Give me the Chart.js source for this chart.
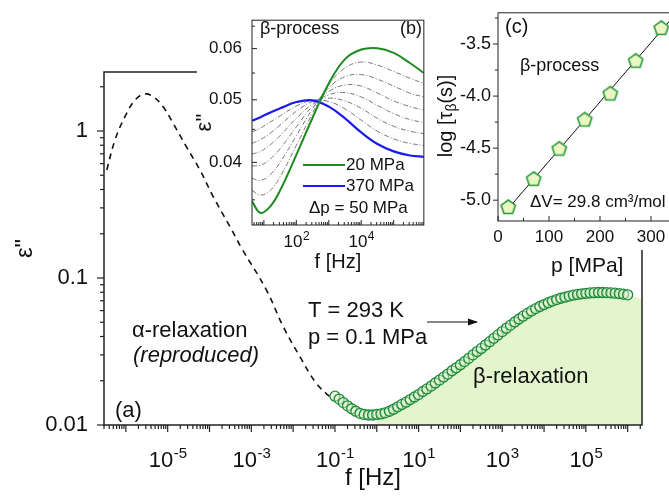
<!DOCTYPE html>
<html>
<head>
<meta charset="utf-8">
<script src="https://cdn.jsdelivr.net/npm/chart.js"></script>
<style>
  body { margin: 0; background: #fff; overflow: hidden; }
  #wrap { position: relative; width: 669px; height: 499px; overflow: hidden; background: #fff; }
  #wrap canvas { position: absolute; top: 0; }
</style>
</head>
<body>
<div id="wrap">
  <canvas id="mainChart" width="669" height="499" style="left:0"></canvas>
  <canvas id="insetB" width="250" height="280" style="left:180px"></canvas>
  <canvas id="insetC" width="265" height="290" style="left:420px"></canvas>
</div>

<script>
  // panel (a): alpha relaxation (dashed) and beta relaxation (circles), T = 293 K
  const alphaFreq = [3.5e-7, 5.5e-7, 9.5e-7, 1.66e-6, 2.8e-6, 4.5e-6, 7.8e-6, 1.35e-5, 2.8e-5,
    5.9e-5, 1.23e-4, 3.1e-4, 5.9e-4, 2.3e-3, 5.8e-3, 1.45e-2, 3.6e-2, 9.1e-2];
  const alphaEps = [0.543, 0.869, 1.251, 1.625, 1.786, 1.71, 1.46, 1.127, 0.782,
    0.543, 0.357, 0.223, 0.159, 0.0828, 0.0467, 0.0292, 0.0192, 0.0148];

  const betaFreq = [
    0.1, 0.126, 0.158, 0.2, 0.251, 0.316, 0.398, 0.501, 0.631, 0.794,
    1, 1.26, 1.58, 2, 2.51, 3.16, 3.98, 5.01, 6.31, 7.94,
    10, 12.6, 15.8, 20, 25.1, 31.6, 39.8, 50.1, 63.1, 79.4,
    100, 126, 158, 200, 251, 316, 398, 501, 631, 794,
    1e3, 1.26e3, 1.58e3, 2e3, 2.51e3, 3.16e3, 3.98e3, 5.01e3, 6.31e3, 7.94e3,
    1e4, 1.26e4, 1.58e4, 2e4, 2.51e4, 3.16e4, 3.98e4, 5.01e4, 6.31e4, 7.94e4,
    1e5, 1.26e5, 1.58e5, 2e5, 2.51e5, 3.16e5, 3.98e5, 5.01e5, 6.31e5, 7.94e5,
    1e6];
  const betaEps = [
    0.0157, 0.0150, 0.0142, 0.0135, 0.0129, 0.0124, 0.0120, 0.0118, 0.0117, 0.0117,
    0.0118, 0.0119, 0.0121, 0.0124, 0.0128, 0.0133, 0.0138, 0.0143, 0.0149, 0.0155,
    0.0161, 0.0169, 0.0176, 0.0184, 0.0193, 0.0202, 0.0212, 0.0222, 0.0234, 0.0245,
    0.0257, 0.0270, 0.0284, 0.0300, 0.0316, 0.0332, 0.0350, 0.0369, 0.0389, 0.0410,
    0.0432, 0.0455, 0.0478, 0.0502, 0.0526, 0.0550, 0.0574, 0.0597, 0.0619, 0.0640,
    0.0660, 0.0679, 0.0697, 0.0713, 0.0728, 0.0741, 0.0753, 0.0764, 0.0773, 0.0781,
    0.0787, 0.0792, 0.0795, 0.0797, 0.0797, 0.0796, 0.0793, 0.0789, 0.0783, 0.0776,
    0.0768];
  const betaAreaEnd = [2.2e6, 0.072];
  const mainXLabelExp = [-5, -3, -1, 1, 3, 5];
  const mainYLabels = [0.01, 0.1, 1];

  // panel (b): beta process at 20 ... 370 MPa
  const insetFreq = [4.3, 7.9, 15.8, 31.6, 100, 316, 1000, 3160, 1e4, 3.16e4, 1e5, 3.16e5, 8.5e5];
  const eps20 = [0.0348, 0.0334, 0.0342, 0.0362, 0.0411, 0.0469, 0.0530, 0.0578, 0.0598, 0.0601, 0.0591, 0.0570, 0.0550];
  const eps70 = [0.0362, 0.0356, 0.0362, 0.0380, 0.0425, 0.0477, 0.0528, 0.0560, 0.0572, 0.0566, 0.0553, 0.0540, 0.0530];
  const eps120 = [0.0378, 0.0375, 0.0383, 0.0400, 0.0440, 0.0484, 0.0522, 0.0543, 0.0547, 0.0538, 0.0525, 0.0512, 0.0505];
  const eps170 = [0.0395, 0.0396, 0.0405, 0.0420, 0.0454, 0.0489, 0.0515, 0.0527, 0.0525, 0.0512, 0.0498, 0.0488, 0.0482];
  const eps220 = [0.0412, 0.0416, 0.0426, 0.0440, 0.0468, 0.0493, 0.0509, 0.0513, 0.0505, 0.0490, 0.0476, 0.0466, 0.0461];
  const eps270 = [0.0428, 0.0434, 0.0444, 0.0457, 0.0480, 0.0497, 0.0503, 0.0498, 0.0485, 0.0468, 0.0455, 0.0447, 0.0443];
  const eps320 = [0.0446, 0.0452, 0.0462, 0.0472, 0.0489, 0.0499, 0.0497, 0.0484, 0.0465, 0.0447, 0.0435, 0.0428, 0.0425];
  const eps370 = [0.0464, 0.0470, 0.0478, 0.0485, 0.0496, 0.0499, 0.0488, 0.0468, 0.0445, 0.0427, 0.0416, 0.0410, 0.0408];
  const insetYTicks = [0.035, 0.04, 0.045, 0.05, 0.055, 0.06, 0.065];
  const insetYLabels = [0.04, 0.05, 0.06];
  const insetXLabelExp = [2, 4];

  // panel (c): log tau_beta vs pressure
  const pressure = [20, 70, 120, 170, 220, 270, 320];
  const logTau = [-5.07, -4.80, -4.51, -4.23, -3.98, -3.665, -3.35];
  const fitP = [15, 345];
  const fitLogTau = [-5.11, -3.23];
  const tauYTicks = [-5, -4.75, -4.5, -4.25, -4, -3.75, -3.5, -3.25];

  const FONT = "'Liberation Sans', Arial, sans-serif";
  const GREEN = '#1e8a3a';
  Chart.defaults.font.family = FONT;
  Chart.defaults.color = '#111';

  const SUP = {'-': '\u207B', '0': '\u2070', '1': '\u00B9', '2': '\u00B2', '3': '\u00B3',
    '4': '\u2074', '5': '\u2075', '6': '\u2076', '7': '\u2077', '8': '\u2078', '9': '\u2079'};
  const sup = n => String(n).split('').map(c => SUP[c]).join('');
  const isDecade = v => { const e = Math.round(Math.log10(v)); return Math.abs(v / Math.pow(10, e) - 1) < 1e-6; };
  const pow10Label = list => v => {
    const e = Math.round(Math.log10(v));
    return isDecade(v) && list.includes(e) ? '10' + sup(e) : '';
  };
  const logTicks = (min, max) => {
    const out = [];
    for (let n = Math.floor(Math.log10(min)); n <= Math.ceil(Math.log10(max)); n++) {
      for (let k = 1; k <= 9; k++) {
        const v = parseFloat((k * Math.pow(10, n)).toPrecision(6));
        if (v >= min * 0.999999 && v <= max * 1.000001) out.push({value: v});
      }
    }
    return out;
  };
  const pts = (xs, ys) => xs.map((x, i) => ({x: x, y: ys[i]}));

  // box around the plot area, tick marks (major / minor, in or out)
  const framePlugin = {
    id: 'frame',
    afterDatasetsDraw(chart, args, o) {
      const ctx = chart.ctx, a = chart.chartArea;
      ctx.save();
      ctx.strokeStyle = '#222';
      ctx.lineWidth = o.lineWidth;
      ctx.strokeRect(a.left, a.top, a.right - a.left, a.bottom - a.top);
      ctx.lineWidth = o.tickWidth;
      ['x', 'y'].forEach(id => {
        const t = o[id], s = chart.scales[id];
        s.ticks.forEach(tk => {
          const major = t.majorBy === 'decade' ? isDecade(tk.value) : tk.label !== '';
          const len = (major ? t.major : t.minor) * t.dir;
          const p = s.getPixelForValue(tk.value);
          ctx.beginPath();
          if (id === 'x') { ctx.moveTo(p, a.bottom); ctx.lineTo(p, a.bottom + len); }
          else { ctx.moveTo(a.left, p); ctx.lineTo(a.left - len, p); }
          ctx.stroke();
        });
      });
      ctx.restore();
    }
  };

  // "10" with a raised exponent under the labelled decade ticks of the x axis
  const powerPlugin = {
    id: 'power',
    afterDraw(chart, args, o) {
      const ctx = chart.ctx, s = chart.scales.x;
      ctx.save();
      ctx.fillStyle = '#111';
      ctx.textBaseline = 'alphabetic';
      ctx.textAlign = 'left';
      s.ticks.forEach(tk => {
        if (!tk.label) return;
        const e = String(Math.round(Math.log10(tk.value)));
        const base = o.size + 'px ' + FONT, small = o.supSize + 'px ' + FONT;
        ctx.font = base; const w1 = ctx.measureText('10').width;
        ctx.font = small; const w2 = ctx.measureText(e).width;
        const x = s.getPixelForValue(tk.value) - (w1 + w2) / 2;
        ctx.font = base; ctx.fillText('10', x, chart.chartArea.bottom + o.baseline);
        ctx.font = small; ctx.fillText(e, x + w1 + 0.5, chart.chartArea.bottom + o.supBaseline);
      });
      ctx.restore();
    }
  };

  // white patches so the insets hide the frame of panel (a)
  const paperPlugin = {
    id: 'paper',
    beforeDraw(chart, args, o) {
      const ctx = chart.ctx, a = chart.chartArea;
      ctx.save();
      ctx.fillStyle = '#fff';
      (o.rects || []).forEach(r => ctx.fillRect(r[0], r[1], r[2], r[3]));
      ctx.fillRect(a.left, a.top, a.right - a.left, a.bottom - a.top);
      ctx.restore();
    }
  };

  const notesPlugin = {
    id: 'notes',
    afterDraw(chart, args, o) {
      const ctx = chart.ctx;
      ctx.save();
      ctx.textBaseline = 'middle';
      (o.lines || []).forEach(l => {
        ctx.strokeStyle = l.color;
        ctx.fillStyle = l.color;
        ctx.lineWidth = l.width;
        ctx.beginPath(); ctx.moveTo(l.x1, l.y); ctx.lineTo(l.x2, l.y); ctx.stroke();
        if (l.arrow) {
          ctx.beginPath();
          ctx.moveTo(l.x2 + 1, l.y); ctx.lineTo(l.x2 - 9, l.y - 3.5); ctx.lineTo(l.x2 - 9, l.y + 3.5);
          ctx.closePath(); ctx.fill();
        }
      });
      (o.texts || []).forEach(t => {
        ctx.font = (t.italic ? 'italic ' : '') + t.size + 'px ' + FONT;
        ctx.fillStyle = '#111';
        ctx.textAlign = 'left';
        ctx.fillText(t.text, t.x, t.y);
      });
      if (o.tauTitle) {
        const r = o.tauTitle;
        const big = r.size + 'px ' + FONT, small = Math.round(r.size * 0.7) + 'px ' + FONT;
        ctx.translate(r.x, r.y);
        ctx.rotate(-Math.PI / 2);
        ctx.font = big; const w1 = ctx.measureText('log [\u03C4').width; const w3 = ctx.measureText('(s)]').width;
        ctx.font = small; const w2 = ctx.measureText('\u03B2').width;
        let x = -(w1 + w2 + w3) / 2;
        ctx.textAlign = 'left';
        ctx.fillStyle = '#111';
        ctx.font = big; ctx.fillText('log [\u03C4', x, 0); x += w1;
        ctx.font = small; ctx.fillText('\u03B2', x, r.size * 0.3); x += w2;
        ctx.font = big; ctx.fillText('(s)]', x, 0);
      }
      ctx.restore();
    }
  };

  const betaPts = pts(betaFreq, betaEps);
  const areaPts = betaPts.filter(p => p.x >= 1).concat([{x: betaAreaEnd[0], y: betaAreaEnd[1]}]);

  new Chart(document.getElementById('mainChart'), {
    type: 'scatter',
    data: {
      datasets: [
        {
          label: 'beta relaxation',
          data: betaPts,
          pointRadius: 5,
          pointBorderWidth: 1.3,
          borderColor: GREEN,
          backgroundColor: 'rgba(218, 242, 202, 0.5)',
        },
        {
          label: 'alpha relaxation (reproduced)',
          data: pts(alphaFreq, alphaEps),
          showLine: true,
          tension: 0.4,
          borderDash: [6, 5],
          borderColor: '#111',
          borderWidth: 1.6,
          pointRadius: 0,
        },
        {
          label: 'beta area',
          data: areaPts,
          showLine: true,
          borderWidth: 0,
          borderColor: 'rgba(0,0,0,0)',
          pointRadius: 0,
          fill: 'start',
          backgroundColor: '#e3f5cd',
        },
      ],
    },
    options: {
      responsive: false,
      animation: false,
      layout: { padding: { top: 72, right: 27, left: 0, bottom: 0 } },
      plugins: {
        legend: { display: false },
        tooltip: { enabled: false },
        frame: {
          lineWidth: 1.5, tickWidth: 1.2,
          x: { dir: 1, major: 7, minor: 4, majorBy: 'decade' },
          y: { dir: 1, major: 7, minor: 4, majorBy: 'decade' },
        },
        power: { size: 22, supSize: 15, baseline: 42, supBaseline: 33 },
        notes: {
          lines: [{ x1: 427, x2: 477, y: 322, color: '#111', width: 1.2, arrow: true }],
          texts: [
            { text: '\u03B1-relaxation', x: 132, y: 331, size: 22 },
            { text: '(reproduced)', x: 133, y: 356, size: 22, italic: true },
            { text: '(a)', x: 115, y: 411, size: 22 },
            { text: 'T = 293 K', x: 308, y: 311, size: 22 },
            { text: 'p = 0.1 MPa', x: 308, y: 338, size: 22 },
            { text: '\u03B2-relaxation', x: 473, y: 377, size: 22 },
          ],
        },
      },
      scales: {
        x: {
          type: 'logarithmic',
          min: 3e-7,
          max: 2.2e6,
          afterFit: s => { s.height = 74; },
          afterBuildTicks: s => { s.ticks = logTicks(s.min, s.max); },
          grid: { display: false, tickLength: 7 },
          border: { display: false },
          ticks: { autoSkip: false, maxRotation: 0, minRotation: 0, padding: 12, font: { size: 22 },
            color: 'rgba(0,0,0,0)', callback: pow10Label(mainXLabelExp) },
          title: { display: true, text: 'f [Hz]', font: { size: 24 }, padding: { bottom: 6 } },
        },
        y: {
          type: 'logarithmic',
          min: 0.01,
          max: 2.52,
          afterFit: s => { s.width = 104; },
          afterBuildTicks: s => { s.ticks = logTicks(s.min, s.max); },
          grid: { display: false, tickLength: 7 },
          border: { display: false },
          ticks: { autoSkip: false, padding: 9, font: { size: 22 },
            callback: v => mainYLabels.some(m => Math.abs(v / m - 1) < 1e-6) ? String(v) : '' },
          title: { display: true, text: '\u03B5"', font: { size: 24 }, padding: { top: 11 } },
        },
      },
    },
    plugins: [framePlugin, powerPlugin, notesPlugin],
  });

  // inset (b)
  const grayLine = data => ({
    data: pts(insetFreq, data), showLine: true, tension: 0.4, pointRadius: 0,
    borderColor: '#6a6a6a', borderWidth: 0.9, borderDash: [5, 2, 1, 2],
  });
  new Chart(document.getElementById('insetB'), {
    type: 'scatter',
    data: {
      datasets: [
        { label: '20 MPa', data: pts(insetFreq, eps20), showLine: true, tension: 0.4, pointRadius: 0, borderColor: '#1f8a1f', borderWidth: 2 },
        { label: '370 MPa', data: pts(insetFreq, eps370), showLine: true, tension: 0.4, pointRadius: 0, borderColor: '#1a1aee', borderWidth: 2.2 },
        grayLine(eps70), grayLine(eps120), grayLine(eps170), grayLine(eps220), grayLine(eps270), grayLine(eps320),
      ],
    },
    options: {
      responsive: false,
      animation: false,
      layout: { padding: { top: 10, right: 3, left: 0, bottom: 0 } },
      plugins: {
        legend: { display: false },
        tooltip: { enabled: false },
        paper: { rects: [[17, 0, 233, 160]] },
        frame: {
          lineWidth: 1, tickWidth: 1,
          x: { dir: -1, major: 5, minor: 3, majorBy: 'decade' },
          y: { dir: -1, major: 5, minor: 3, majorBy: 'label' },
        },
        power: { size: 17, supSize: 12, baseline: 22, supBaseline: 15 },
        notes: {
          lines: [
            { x1: 123, x2: 165, y: 165, color: '#1f8a1f', width: 2 },
            { x1: 123, x2: 165, y: 186, color: '#1a1aee', width: 2.2 },
          ],
          texts: [
            { text: '\u03B2-process', x: 80, y: 29, size: 18 },
            { text: '(b)', x: 220, y: 29, size: 18 },
            { text: '20 MPa', x: 166, y: 165, size: 17 },
            { text: '370 MPa', x: 166, y: 186, size: 17 },
            { text: '\u0394p = 50 MPa', x: 129, y: 208, size: 17 },
          ],
        },
      },
      scales: {
        x: {
          type: 'logarithmic',
          min: 4.3,
          max: 8.5e5,
          afterFit: s => { s.height = 55; },
          afterBuildTicks: s => { s.ticks = logTicks(s.min, s.max); },
          grid: { display: false, drawTicks: false },
          border: { display: false },
          ticks: { autoSkip: false, maxRotation: 0, padding: 7, font: { size: 17 },
            color: 'rgba(0,0,0,0)', callback: pow10Label(insetXLabelExp) },
          title: { display: true, text: 'f [Hz]', font: { size: 20 }, padding: { bottom: 6 } },
        },
        y: {
          type: 'logarithmic',
          min: 0.0321,
          max: 0.0664,
          afterFit: s => { s.width = 72; },
          afterBuildTicks: s => { s.ticks = insetYTicks.map(v => ({value: v})); },
          grid: { display: false, drawTicks: false },
          border: { display: false },
          ticks: { autoSkip: false, padding: 10, font: { size: 17 },
            callback: v => insetYLabels.some(m => Math.abs(v - m) < 1e-9) ? v.toFixed(2) : '' },
          title: { display: true, text: '\u03B5"', font: { size: 22 }, padding: { top: 12 } },
        },
      },
    },
    plugins: [paperPlugin, framePlugin, powerPlugin, notesPlugin],
  });

  // inset (c)
  function pentagon(r, fill, stroke) {
    const c = document.createElement('canvas');
    const size = Math.ceil(2 * r + 4);
    c.width = size; c.height = size;
    const g = c.getContext('2d');
    g.beginPath();
    for (let i = 0; i < 5; i++) {
      const ang = -Math.PI / 2 + i * 2 * Math.PI / 5;
      g.lineTo(size / 2 + r * Math.cos(ang), size / 2 + r * Math.sin(ang));
    }
    g.closePath();
    g.fillStyle = fill; g.fill();
    g.lineWidth = 1.6; g.strokeStyle = stroke; g.stroke();
    return c;
  }

  new Chart(document.getElementById('insetC'), {
    type: 'scatter',
    data: {
      datasets: [
        {
          label: 'tau beta',
          data: pts(pressure, logTau),
          pointStyle: pentagon(7.5, '#eaf6c4', '#2a9a3a'),
          pointRadius: 7,
        },
        {
          label: 'fit',
          data: pts(fitP, fitLogTau),
          showLine: true,
          pointRadius: 0,
          borderColor: '#111',
          borderWidth: 1,
        },
      ],
    },
    options: {
      responsive: false,
      animation: false,
      layout: { padding: { top: 10, right: 8.5, left: 0, bottom: 0 } },
      plugins: {
        legend: { display: false },
        tooltip: { enabled: false },
        paper: { rects: [[10, 0, 255, 250]] },
        frame: {
          lineWidth: 1, tickWidth: 1,
          x: { dir: -1, major: 5, minor: 3, majorBy: 'label' },
          y: { dir: 1, major: 5, minor: 3, majorBy: 'label' },
        },
        notes: {
          texts: [
            { text: '(c)', x: 85, y: 27, size: 20 },
            { text: '\u03B2-process', x: 100, y: 66, size: 18 },
            { text: '\u0394V= 29.8 cm\u00B3/mol', x: 110, y: 202, size: 17 },
          ],
          tauTitle: { x: 26, y: 116, size: 20 },
        },
      },
      scales: {
        x: {
          type: 'linear',
          min: 0,
          max: 350,
          afterFit: s => { s.height = 69; },
          grid: { display: false, drawTicks: false },
          border: { display: false },
          ticks: { stepSize: 50, autoSkip: false, maxRotation: 0, padding: 6, font: { size: 17 },
            callback: v => v % 100 === 0 ? String(v) : '' },
          title: { display: true, text: 'p [MPa]', font: { size: 21 }, padding: { bottom: 11 } },
        },
        y: {
          type: 'linear',
          min: -5.2,
          max: -3.2,
          afterFit: s => { s.width = 78; },
          afterBuildTicks: s => { s.ticks = tauYTicks.map(v => ({value: v})); },
          grid: { display: false, tickLength: 5 },
          border: { display: false },
          ticks: { autoSkip: false, padding: 2, font: { size: 18 },
            callback: v => Math.abs(v * 2 - Math.round(v * 2)) < 1e-9 ? v.toFixed(1) : '' },
        },
      },
    },
    plugins: [paperPlugin, framePlugin, notesPlugin],
  });
</script>
</body>
</html>
